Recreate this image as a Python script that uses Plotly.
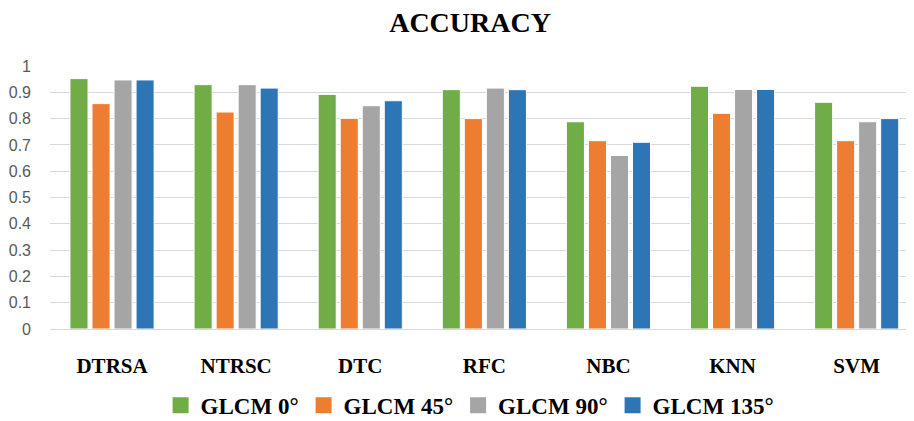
import plotly.graph_objects as go

categories = ["DTRSA", "NTRSC", "DTC", "RFC", "NBC", "KNN", "SVM"]
glcm_0 = [0.952, 0.929, 0.892, 0.910, 0.788, 0.923, 0.862]
glcm_45 = [0.857, 0.825, 0.801, 0.800, 0.716, 0.820, 0.716]
glcm_90 = [0.947, 0.929, 0.849, 0.916, 0.660, 0.911, 0.788]
glcm_135 = [0.947, 0.916, 0.868, 0.910, 0.710, 0.911, 0.800]
series_names = ["GLCM 0°", "GLCM 45°", "GLCM 90°", "GLCM 135°"]
colors = ["#70AD47", "#ED7D31", "#A5A5A5", "#2E75B6"]
y_ticks = [0, 0.1, 0.2, 0.3, 0.4, 0.5, 0.6, 0.7, 0.8, 0.9, 1]
y_tick_text = ["0", "0.1", "0.2", "0.3", "0.4", "0.5", "0.6", "0.7", "0.8", "0.9", "1"]

serif = "Liberation Serif"

fig = go.Figure()
for name, vals, col in zip(series_names, [glcm_0, glcm_45, glcm_90, glcm_135], colors):
    fig.add_trace(go.Bar(
        x=categories, y=vals, name=name, showlegend=False,
        marker=dict(color=col, line=dict(color="white", width=1)),
    ))
# legend entries with larger square swatches
for name, col in zip(series_names, colors):
    fig.add_trace(go.Scatter(
        x=[None], y=[None], mode="markers", name=f"<b>{name}</b>",
        marker=dict(symbol="square", size=16, color=col),
        showlegend=True, hoverinfo="skip",
    ))

# page body has an 8px margin: figure is sized/offset to compensate
fig.update_layout(
    width=906, height=413,
    margin=dict(l=42, r=0, t=58, b=92, autoexpand=False),
    paper_bgcolor="white", plot_bgcolor="white",
    barmode="group", bargap=0.29, bargroupgap=0.18,
    title=dict(text="<b>ACCURACY</b>", x=0.51, xanchor="center", y=0.99, yanchor="top",
               pad=dict(t=0, b=0), font=dict(family=serif, size=28, color="black")),
    legend=dict(orientation="h", x=0.128, xanchor="left", y=-0.29, yanchor="middle",
                font=dict(family=serif, size=23, color="black"),
                itemwidth=30, traceorder="normal"),
    showlegend=True,
)
fig.update_xaxes(
    range=[-0.5, 6.462], showgrid=False, showline=False, zeroline=False,
    tickvals=categories, ticktext=[f"<b>{c}</b>" for c in categories],
    tickfont=dict(family=serif, size=21, color="black"),
    ticklabelstandoff=22, automargin=False,
)
fig.update_yaxes(
    range=[0, 1.0], tickvals=y_ticks, ticktext=y_tick_text,
    showgrid=True, gridcolor="#D9D9D9", gridwidth=1,
    zeroline=True, zerolinecolor="#D9D9D9", zerolinewidth=1,
    showline=False,
    tickfont=dict(family="Liberation Sans", size=16, color="#595959"),
    ticklabelstandoff=18, automargin=False,
)

fig.write_html("out.html")
